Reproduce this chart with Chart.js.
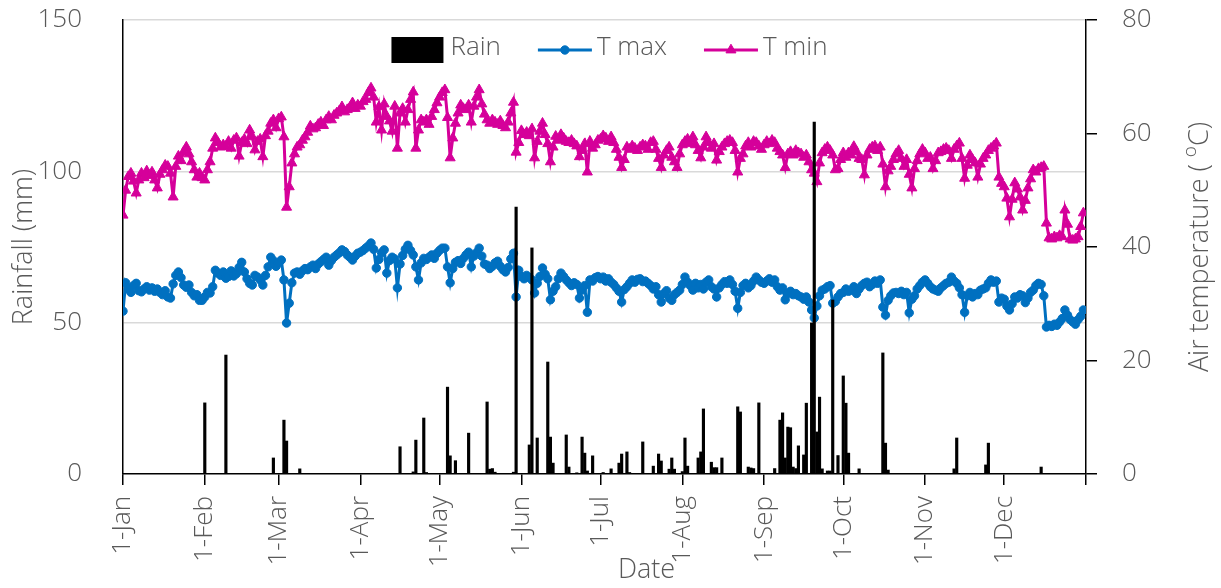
<!DOCTYPE html>
<html>
<head>
<meta charset="utf-8">
<script src="https://cdn.jsdelivr.net/npm/chart.js@4.4.0/dist/chart.umd.min.js"></script>
<style>
  html, body { margin: 0; padding: 0; background: #fff; }
  canvas { display: block; }
</style>
</head>
<body>
<canvas id="chart" width="1221" height="588"></canvas>
<script>
// day-of-year where each month starts (last one closes the axis)
var monthDays = [0, 31, 59, 90, 120, 151, 181, 212, 243, 273, 304, 334, 365];
var monthLabels = ['1-Jan', '1-Feb', '1-Mar', '1-Apr', '1-May', '1-Jun', '1-Jul',
                   '1-Aug', '1-Sep', '1-Oct', '1-Nov', '1-Dec', ''];

// daily T max (read against right axis)
var tMax = [
  28.7, 33.7, 32.6, 32.0, 33.2, 33.6, 32.3, 32.1, 32.6, 33.0,
  32.4, 32.8, 32.2, 32.6, 32.0, 31.6, 32.3, 31.2, 31.0, 33.5,
  35.0, 35.6, 34.6, 33.3, 32.9, 33.3, 32.0, 31.4, 31.6, 30.6,
  30.6, 31.2, 32.0, 31.9, 33.0, 35.9, 35.4, 35.0, 35.6, 34.5,
  34.8, 35.8, 34.9, 35.3, 36.4, 37.3, 35.6, 34.4, 33.6, 33.3,
  35.0, 34.7, 34.2, 33.3, 35.0, 36.5, 38.2, 37.6, 36.6, 37.2,
  37.7, 34.2, 26.6, 30.1, 33.7, 35.4, 35.6, 35.2, 35.8, 36.2,
  36.0, 36.5, 36.8, 36.2, 37.0, 37.4, 37.8, 38.2, 36.8, 37.6,
  38.2, 38.6, 39.0, 39.5, 39.2, 38.6, 38.2, 37.7, 38.4, 38.9,
  39.1, 39.4, 39.8, 40.2, 40.7, 39.6, 36.3, 37.8, 39.0, 39.5,
  35.4, 37.6, 38.2, 37.9, 32.8, 37.0, 38.5, 39.6, 40.3, 39.4,
  38.6, 36.5, 34.2, 37.2, 38.0, 37.8, 38.2, 38.6, 38.0, 38.9,
  39.4, 39.8, 39.8, 36.5, 33.7, 36.2, 37.3, 37.6, 37.1, 38.0,
  38.6, 39.1, 36.5, 38.4, 39.0, 39.8, 38.4, 37.0, 36.8, 36.2,
  36.6, 37.2, 37.5, 36.6, 36.0, 35.6, 36.4, 37.9, 38.9, 31.2,
  35.9, 34.8, 34.4, 35.0, 34.6, 34.2, 31.9, 33.6, 34.8, 36.3,
  35.2, 34.4, 30.7, 32.2, 33.0, 34.4, 35.4, 34.8, 34.2, 33.7,
  33.2, 33.7, 33.4, 31.0, 32.4, 33.2, 28.5, 34.2, 34.0, 34.6,
  34.8, 34.4, 34.7, 34.0, 34.4, 33.8, 33.4, 32.8, 32.2, 30.3,
  32.5, 33.0, 33.6, 34.2, 33.8, 34.3, 34.4, 33.9, 34.0, 33.6,
  33.2, 32.6, 33.0, 31.6, 30.3, 31.8, 32.3, 31.0, 30.6, 31.6,
  32.0, 32.4, 33.4, 34.7, 33.8, 33.2, 32.4, 33.6, 32.8, 33.4,
  32.6, 33.8, 34.2, 33.0, 32.6, 31.2, 32.8, 33.4, 33.9, 33.6,
  34.2, 33.4, 32.2, 29.2, 32.0, 33.2, 33.6, 32.8, 33.2, 34.0,
  34.7, 34.2, 33.8, 33.6, 34.0, 34.4, 33.8, 34.2, 33.0, 32.4,
  32.8, 30.7, 31.8, 32.2, 31.6, 31.8, 31.4, 31.2, 30.8, 31.2,
  30.3, 28.9, 27.5, 29.6, 31.4, 32.4, 32.6, 33.0, 33.2, 30.1,
  30.4, 31.2, 31.8, 32.0, 32.6, 32.2, 32.4, 33.0, 31.8, 32.6,
  33.2, 33.6, 33.8, 33.0, 33.4, 34.0, 33.6, 34.2, 29.4, 28.0,
  30.6, 31.4, 31.9, 32.0, 31.8, 32.2, 31.6, 32.0, 28.4, 30.8,
  31.4, 32.6, 33.2, 33.8, 34.2, 33.6, 33.0, 32.6, 32.4, 32.2,
  32.8, 33.2, 33.6, 33.8, 34.7, 34.0, 33.6, 32.8, 31.6, 28.5,
  31.4, 32.0, 31.2, 31.8, 31.6, 32.4, 32.6, 32.8, 33.6, 34.2,
  33.8, 34.0, 30.3, 31.0, 30.8, 29.6, 28.9, 30.0, 31.2, 31.0,
  31.6, 31.4, 30.2, 31.0, 32.0, 32.4, 33.2, 33.6, 33.4, 31.4,
  25.9, 26.2, 26.0, 26.4, 26.2, 26.8, 27.4, 28.9, 28.0, 27.2,
  26.8, 26.4, 27.2, 27.8, 28.9
];

// daily T min (read against right axis)
var tMin = [
  45.6, 50.0, 52.4, 53.0, 51.6, 49.5, 51.8, 53.0, 52.2, 53.4,
  52.6, 53.2, 51.8, 50.4, 52.8, 53.6, 54.4, 54.2, 53.0, 48.8,
  54.2, 56.0, 55.2, 56.8, 57.6, 56.4, 55.0, 53.6, 52.3, 53.0,
  52.2, 51.8, 53.6, 55.0, 57.4, 59.2, 58.4, 57.6, 58.0, 57.7,
  58.6, 57.4, 58.8, 59.2, 56.0, 58.4, 59.0, 58.2, 60.6, 59.4,
  57.1, 58.6, 59.0, 55.9, 59.6, 60.4, 61.8, 62.4, 61.0, 62.6,
  62.9, 59.4, 47.0, 50.6, 54.8, 56.4, 57.6, 58.0, 58.8, 59.4,
  60.2, 61.3, 60.8, 61.0, 61.6, 62.0, 61.4, 62.4, 63.0, 62.4,
  63.2, 63.6, 64.0, 64.7, 63.8, 64.2, 64.6, 65.4, 64.4, 65.0,
  64.8, 65.6, 66.0, 67.2, 68.0, 66.4, 62.0, 64.7, 60.6, 65.2,
  63.0, 62.2, 60.4, 64.8, 57.4, 63.6, 64.4, 62.0, 64.2, 66.0,
  67.3, 57.4, 60.6, 62.4, 62.0, 62.4, 61.6, 63.0, 64.2, 65.4,
  66.4, 67.2, 67.7, 62.8, 55.7, 59.2, 61.8, 63.6, 65.0, 64.4,
  64.2, 65.0, 62.0, 64.8, 66.4, 67.7, 65.2, 63.4, 62.4, 61.8,
  62.4, 62.0, 61.6, 62.2, 61.4, 61.0, 62.0, 63.6, 65.5, 56.7,
  58.4, 60.5, 59.8, 60.2, 59.6, 60.8, 55.7, 58.6, 60.4, 61.8,
  59.8, 58.2, 55.0, 57.6, 59.5, 58.8, 59.8, 59.2, 58.6, 58.4,
  58.8, 58.2, 57.8, 55.9, 57.0, 58.2, 53.2, 58.6, 57.4, 58.0,
  58.8, 59.0, 59.6, 59.2, 58.6, 59.4, 58.4, 57.2, 55.8, 54.0,
  55.4, 57.6, 57.2, 57.8, 57.4, 57.0, 57.6, 58.0, 57.8, 57.2,
  58.4, 58.6, 57.2, 55.6, 54.0, 56.2, 57.0, 57.6, 55.8, 55.0,
  54.0, 56.4, 58.0, 58.6, 59.0, 58.2, 59.4, 58.0, 57.0, 55.7,
  57.6, 59.4, 58.4, 57.4, 58.2, 55.3, 56.8, 57.6, 58.2, 58.6,
  58.8, 58.4, 57.0, 53.2, 55.6, 56.4, 57.8, 58.4, 57.6, 58.6,
  58.4, 57.8, 57.2, 58.0, 58.6, 58.2, 58.8, 58.4, 57.4, 56.8,
  56.2, 54.0, 56.4, 56.8, 56.2, 57.0, 56.6, 56.4, 55.8, 56.2,
  55.0, 53.6, 53.0, 51.5, 54.8, 56.6, 57.2, 57.6, 57.0, 56.2,
  53.6, 53.8, 55.4, 56.6, 55.8, 56.6, 56.2, 57.7, 56.8, 55.6,
  55.4, 52.7, 56.2, 57.2, 57.6, 57.8, 57.0, 57.6, 54.6, 50.6,
  53.4, 54.2, 55.4, 56.4, 57.0, 55.6, 54.2, 55.4, 52.8, 50.4,
  53.8, 55.2, 56.4, 57.2, 56.6, 55.6, 55.8, 53.8, 55.2, 56.6,
  56.8, 57.2, 57.4, 57.0, 55.6, 57.2, 57.8, 58.3, 55.6, 52.1,
  54.4, 56.2, 55.4, 54.8, 52.3, 54.6, 55.6, 56.2, 57.0, 57.4,
  57.8, 58.3, 52.3, 51.2, 50.6, 48.6, 45.3, 48.4, 51.3, 50.2,
  48.8, 46.5, 48.2, 50.4, 52.0, 53.6, 53.2, 53.8, 54.0, 54.2,
  44.2, 41.6, 41.4, 41.8, 41.6, 42.0, 41.8, 46.5, 44.0, 41.4,
  41.2, 41.4, 41.8, 43.6, 46.0
];

// rainy days (day of year) and rainfall in mm
var rainDay = [31, 39, 57, 61, 62, 67, 105, 110, 111, 114, 115,
  123, 124, 126, 131, 138, 139, 140, 141, 148, 149, 154, 155, 157,
  161, 162, 163, 168, 169, 172, 174, 175, 176, 178, 182, 185, 188,
  189, 191, 192, 197, 201, 203, 204, 207, 208, 209, 212, 213, 214,
  218, 219, 220, 223, 224, 225, 227, 233, 234, 237, 238, 239, 241,
  247, 249, 250, 251, 252, 253, 254, 255, 256, 258, 259, 261, 262,
  263, 264, 265, 267, 268, 269, 271, 273, 274, 275, 279, 288, 289,
  290, 315, 316, 327, 328, 348];
var rainMm = [23.5, 39.3, 5.3, 17.8, 10.9, 1.7, 9.0, 0.7, 11.2, 18.5, 0.5,
  28.7, 6.0, 4.4, 13.5, 23.8, 1.6, 1.8, 0.6, 0.6, 88.2, 9.6, 74.7, 11.9,
  37.0, 12.2, 3.6, 12.9, 2.3, 0.4, 12.2, 6.9, 1.0, 6.0, 0.5, 1.7, 3.6,
  6.6, 7.3, 0.5, 10.6, 2.6, 6.6, 4.3, 1.6, 5.3, 1.6, 0.8, 11.9, 2.6,
  5.3, 7.3, 21.5, 3.9, 2.1, 2.1, 5.3, 22.2, 20.5, 2.3, 2.0, 1.8, 23.5,
  1.8, 17.8, 20.2, 5.3, 15.5, 15.3, 2.3, 1.8, 9.3, 6.3, 23.4, 49.9, 116.3,
  13.9, 25.4, 1.7, 1.0, 1.0, 57.5, 6.1, 32.4, 23.4, 6.9, 1.7, 40.0, 10.2,
  1.3, 1.7, 11.9, 3.0, 10.2, 2.3];

var days = [];
for (var i = 0; i < tMax.length; i++) days.push(i);
var rainPoints = rainDay.map(function (d, i) { return { x: d, y: rainMm[i] }; });

var textColor = '#595959';
var fontFamily = "'Open Sans', 'Segoe UI', sans-serif";
var blue = '#0070C0';
var pink = '#D5009A';

Chart.defaults.font.family = fontFamily;
Chart.defaults.font.weight = '300';
Chart.defaults.color = textColor;

// keep the label padding from pushing the plot area down
function fixWidth(w) {
  return function (axis) {
    axis.width = w;
    axis.paddingTop = 16;
    axis.paddingBottom = 16;
  };
}

// legend sits inside the plot, drawn over it like the original
var overlay = {
  id: 'overlay',
  afterDraw: function (chart) {
    var ctx = chart.ctx;
    var area = chart.chartArea;
    var sets = chart.data.datasets;
    ctx.save();

    ctx.font = '300 26px ' + fontFamily;
    ctx.textBaseline = 'middle';
    ctx.textAlign = 'left';
    var widths = sets.map(function (ds) { return 54 + 5 + ctx.measureText(ds.label).width; });
    var total = widths.reduce(function (a, b) { return a + b; }, 0) + 37 * (sets.length - 1);
    var lx = (area.left + area.right) / 2 + 5 - total / 2;
    var cy = area.top + 30;
    sets.forEach(function (ds, i) {
      if (ds.type === 'bar') {
        ctx.fillStyle = ds.backgroundColor;
        ctx.fillRect(lx, cy - 13, 52, 26);
      } else {
        ctx.strokeStyle = ds.borderColor;
        ctx.lineWidth = 3;
        ctx.beginPath();
        ctx.moveTo(lx, cy);
        ctx.lineTo(lx + 54, cy);
        ctx.stroke();
        ctx.fillStyle = ds.borderColor;
        ctx.lineWidth = 1;
        Chart.helpers.drawPoint(ctx, { pointStyle: ds.pointStyle, radius: ds.pointRadius, rotation: 0, borderWidth: 1 }, lx + 27, cy);
      }
      ctx.fillStyle = textColor;
      ctx.fillText(ds.label, lx + 59, cy - 2);
      lx += widths[i] + 37;
    });

    // right axis title reads bottom to top
    var y2 = chart.scales.y2;
    var big = '300 27px ' + fontFamily;
    var small = '300 19px ' + fontFamily;
    var a = 'Air temperature ( ', b = 'o', c = 'C)';
    ctx.font = big;
    var wa = ctx.measureText(a).width;
    var wc = ctx.measureText(c).width;
    ctx.font = small;
    var wb = ctx.measureText(b).width;
    ctx.save();
    ctx.translate(y2.right - 21, (area.top + area.bottom) / 2);
    ctx.rotate(-Math.PI / 2);
    var sx = -(wa + wb + wc) / 2;
    ctx.font = big;
    ctx.fillText(a, sx, 0);
    ctx.font = small;
    ctx.fillText(b, sx + wa, -9);
    ctx.font = big;
    ctx.fillText(c, sx + wa + wb, 0);
    ctx.restore();

    // x axis title
    ctx.font = big;
    ctx.textAlign = 'center';
    ctx.fillText('Date', (area.left + area.right) / 2 + 42, chart.scales.x.bottom - 18);
    ctx.restore();
  }
};

var ctx = document.getElementById('chart').getContext('2d');
var myChart = new Chart(ctx, {
  type: 'bar',
  data: {
    labels: days,
    datasets: [{
      type: 'bar',
      label: 'Rain',
      data: rainPoints,
      backgroundColor: '#000000',
      barThickness: 2.5,
      yAxisID: 'y'
    }, {
      type: 'line',
      label: 'T max',
      data: tMax,
      borderColor: blue,
      backgroundColor: blue,
      borderWidth: 3,
      pointStyle: 'circle',
      pointRadius: 4.2,
      pointBorderWidth: 1,
      tension: 0,
      yAxisID: 'y2'
    }, {
      type: 'line',
      label: 'T min',
      data: tMin,
      borderColor: pink,
      backgroundColor: pink,
      borderWidth: 3,
      pointStyle: 'triangle',
      pointRadius: 5.8,
      pointBorderWidth: 1,
      tension: 0,
      yAxisID: 'y2'
    }]
  },
  options: {
    responsive: false,
    animation: false,
    layout: { padding: { top: 20, left: 0, right: 0, bottom: 0 } },
    plugins: {
      legend: { display: false },
      tooltip: { enabled: false }
    },
    scales: {
      x: {
        type: 'linear',
        min: 0,
        max: 365,
        offset: false,
        afterBuildTicks: function (axis) {
          axis.ticks = monthDays.map(function (d) { return { value: d }; });
        },
        afterFit: function (axis) { axis.height = 114; },
        ticks: {
          autoSkip: false,
          minRotation: 90,
          maxRotation: 90,
          padding: 11,
          font: { size: 26 },
          color: textColor,
          callback: function (value) {
            var k = monthDays.indexOf(value);
            return k >= 0 ? monthLabels[k] : '';
          }
        },
        grid: { offset: false, drawOnChartArea: false, drawTicks: true, tickLength: 11, color: '#000', lineWidth: 1.5 },
        border: { display: true, color: '#000', width: 1.5 }
      },
      y: {
        position: 'left',
        min: 0,
        max: 150,
        afterFit: fixWidth(123),
        ticks: { stepSize: 50, padding: 41, font: { size: 26 }, color: textColor },
        grid: {
          drawTicks: false,
          lineWidth: 1.5,
          color: function (c) { return c.tick && c.tick.value === 0 ? 'rgba(0,0,0,0)' : '#d9d9d9'; }
        },
        border: { display: true, color: '#000', width: 1.5 },
        title: {
          display: true,
          text: 'Rainfall (mm)',
          color: textColor,
          font: { size: 27 },
          padding: { top: 8, bottom: 0 }
        }
      },
      y2: {
        position: 'right',
        min: 0,
        max: 80,
        afterFit: fixWidth(135),
        ticks: { stepSize: 20, padding: 25, font: { size: 26 }, color: textColor },
        grid: { drawOnChartArea: false, drawTicks: true, tickLength: 11, color: '#000', lineWidth: 1.5 },
        border: { display: true, color: '#000', width: 1.5 }
      }
    }
  },
  plugins: [overlay]
});
</script>
</body>
</html>
